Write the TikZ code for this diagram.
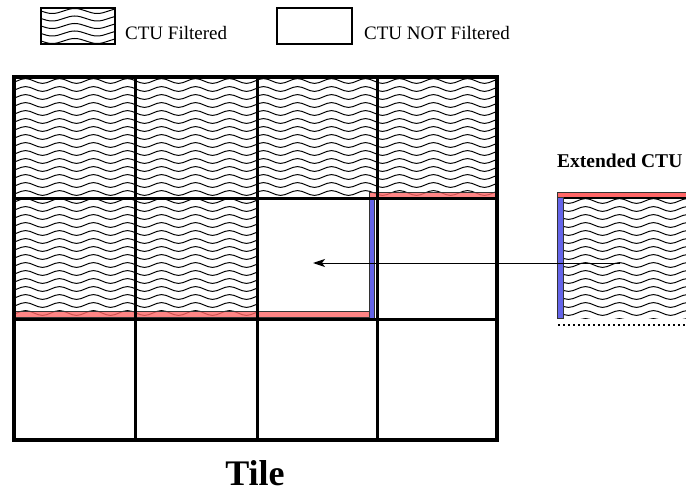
\documentclass[tikz,border=0pt]{standalone}
\usepackage{fontspec}
\setmainfont{Liberation Serif}
\usetikzlibrary{arrows.meta}
\definecolor{stripred}{RGB}{255,102,102}
\definecolor{stripblue}{RGB}{100,100,232}
\tikzset{
  waveline/.style={line width=1pt, black},
  redstrip/.style={fill=stripred, fill opacity=0.8, draw=black!80, line width=0.6pt},
  bluestrip/.style={fill=stripblue, draw=black!80, line width=0.6pt},
  gridthin/.style={line width=3pt, line cap=rect},
  gridthick/.style={line width=4pt},
  legendbox/.style={draw, line width=1.2pt},
  lbl/.style={font=\fontsize{19}{22}\selectfont, inner sep=0pt},
  boldlbl/.style={font=\fontsize{19.5}{24}\selectfont\bfseries, inner sep=0pt},
  titlelbl/.style={font=\fontsize{36}{40}\selectfont\bfseries, inner sep=0pt},
  dotline/.style={line width=1.8pt, dash pattern=on 1.8pt off 3.2pt},
  flowarrow/.style={line width=1pt, -{Stealth[length=12pt,width=8pt,inset=3pt]}},
}
\begin{document}
\begin{tikzpicture}[x=1pt,y=-1pt]
\useasboundingbox (0,0) rectangle (686,492);
\clip (0,0) rectangle (686,492);

% ---------- legend ----------
\begin{scope}
  \clip (41,8) rectangle (115,44);
  \foreach \yy in {11,18.5,...,42}{
    \draw[waveline] (41,\yy) \foreach \k in {1,...,2}{ sin ++(11.25,2.5) cos ++(11.25,-2.5) sin ++(11.25,-2.5) cos ++(11.25,2.5)};
  }
\end{scope}
\path[legendbox] (41,8) rectangle (115,44);
\node[lbl, anchor=base west] (lgA) at (125,40) {CTU Filtered};
\path[legendbox] (277,8) rectangle (352,44);
\node[lbl, anchor=base west] (lgB) at (364,40) {CTU NOT Filtered};

% ---------- tile waves ----------
\begin{scope}
  \clip (14,77) rectangle (497,199) (14,199) rectangle (257,319.5);
  \foreach \yy in {81,89,...,323}{
    \draw[waveline] (0,\yy) \foreach \k in {1,...,15}{ sin ++(8.5,2.4) cos ++(8.5,-2.4) sin ++(8.5,-2.4) cos ++(8.5,2.4)};
  }
\end{scope}

% ---------- strips in tile ----------
\path[redstrip] (369,192) rectangle (497,198);
\path[redstrip] (14,311.5) rectangle (369,317.5);
\path[bluestrip] (369,198) rectangle (374.5,319);

% ---------- grid ----------
\foreach \xx in {135,257,377}{
  \draw[gridthin] (\xx,77) -- (\xx,440);
}
\foreach \yy in {199,319.5}{
  \draw[gridthin] (14,\yy) -- (497,\yy);
}
\draw[gridthick] (14,77) rectangle (497,440);

% ---------- extended CTU ----------
\begin{scope}
  \clip (563,197) rectangle (686,318);
  \foreach \yy in {201,209,...,321}{
    \draw[waveline] (560,\yy) \foreach \k in {1,...,5}{ sin ++(8.5,2.4) cos ++(8.5,-2.4) sin ++(8.5,-2.4) cos ++(8.5,2.4)};
  }
\end{scope}
\path[redstrip, fill opacity=1] (557,192) rectangle (690,197);
\draw[line width=1.6pt] (557,197.8) -- (690,197.8);
\path[bluestrip] (557,197) rectangle (563,318);
\draw[dotline] (558,325) -- (686,325);
\node[boldlbl, anchor=base west] (extlbl) at (557,168) {Extended CTU};

% ---------- arrow ----------
\coordinate (arrowstart) at (620,263);
\coordinate (arrowend) at (313,263);
\draw[flowarrow] (arrowstart) -- (arrowend);

% ---------- title ----------
\node[titlelbl, anchor=base] (tile) at (255,485) {Tile};
\end{tikzpicture}
\end{document}
